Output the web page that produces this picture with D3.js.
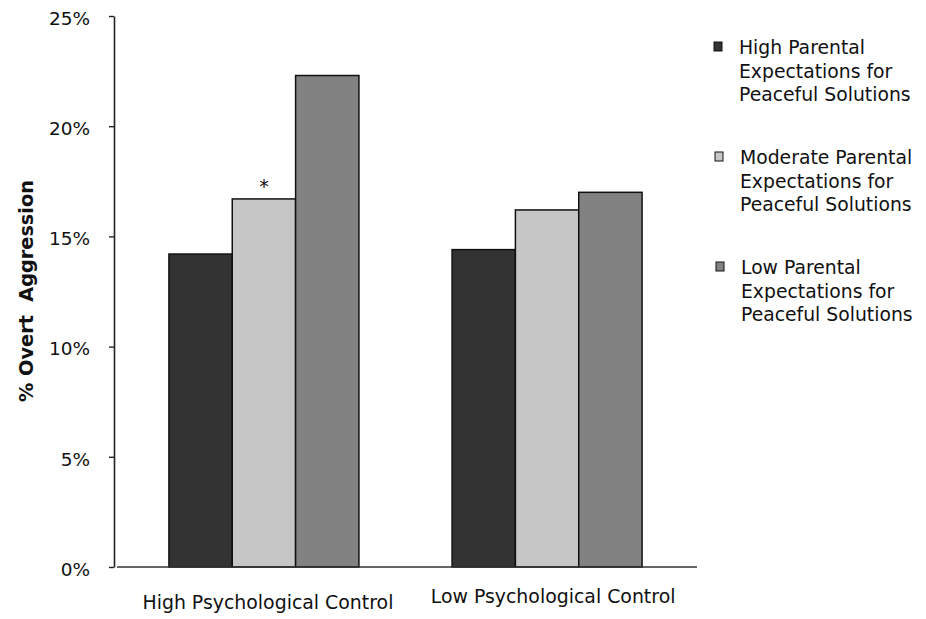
<!DOCTYPE html>
<html>
<head>
<meta charset="utf-8">
<script src="https://cdn.jsdelivr.net/npm/d3@7"></script>
<style>
  body { margin: 0; background: #fff; }
  svg { display: block; font-family: "DejaVu Sans", "Liberation Sans", Arial, sans-serif; }
  text { white-space: pre; }
</style>
</head>
<body>
<svg id="chart" width="926" height="619"></svg>
<script>
const categories = ["High Psychological Control", "Low Psychological Control"];
const seriesNames = [
  ["High Parental", "Expectations for", "Peaceful Solutions"],
  ["Moderate Parental", "Expectations for", "Peaceful Solutions"],
  ["Low Parental", "Expectations for", "Peaceful Solutions"]
];
const highExpect = [14.2, 14.4];
const moderateExpect = [16.7, 16.2];
const lowExpect = [22.3, 17.0];
const yTicks = [0, 5, 10, 15, 20, 25];
const yTitle = "% Overt  Aggression";
const significance = [{ category: 0, series: 1, mark: "*" }];

const series = [highExpect, moderateExpect, lowExpect];
const colors = ["#333333", "#c6c6c6", "#828282"];

const svg = d3.select("#chart");
const x0 = d3.scaleBand().domain(categories).range([114, 697]).paddingInner(0.329).paddingOuter(0.194);
const x1 = d3.scaleBand().domain(d3.range(series.length)).range([0, x0.bandwidth()]).padding(0);
const y = d3.scaleLinear().domain([0, 25]).range([567, 16]);

// bars
categories.forEach((c, ci) => {
  const g = svg.append("g").attr("transform", `translate(${x0(c)},0)`);
  series.forEach((s, si) => {
    g.append("rect")
      .attr("x", x1(si))
      .attr("y", y(s[ci]))
      .attr("width", x1.bandwidth())
      .attr("height", y(0) - y(s[ci]))
      .attr("fill", colors[si])
      .attr("stroke", "#111")
      .attr("stroke-width", 1.5);
  });
});

// significance marks
significance.forEach(d => {
  const c = categories[d.category];
  svg.append("text")
    .attr("x", x0(c) + x1(d.series) + x1.bandwidth() / 2)
    .attr("y", y(series[d.series][d.category]) - 6)
    .attr("text-anchor", "middle")
    .attr("font-size", 19)
    .attr("fill", "#111")
    .text(d.mark);
});

// y axis
const yAxis = d3.axisLeft(y).tickValues(yTicks).tickFormat(d => d + "%").tickSize(5).tickSizeOuter(0);
const ya = svg.append("g").attr("transform", "translate(114,0)").call(yAxis);
ya.select(".domain").attr("stroke", "#222").attr("stroke-width", 1.6);
ya.selectAll(".tick line").attr("stroke", "#222").attr("stroke-width", 1.4);
ya.selectAll(".tick text")
  .attr("font-size", 18.5).attr("fill", "#111").attr("x", -24).attr("dy", "0.45em")
  .attr("font-family", "DejaVu Sans, Liberation Sans, Arial, sans-serif");

// x axis baseline
svg.append("line").attr("x1", 117).attr("x2", 697).attr("y1", y(0)).attr("y2", y(0))
  .attr("stroke", "#333").attr("stroke-width", 1.4);

// category labels
categories.forEach((c, ci) => {
  svg.append("text")
    .attr("x", x0(c) + x0.bandwidth() / 2 + (ci === 0 ? 4 : 6))
    .attr("y", ci === 0 ? 609 : 603)
    .attr("text-anchor", "middle")
    .attr("font-size", 18.9)
    .attr("fill", "#111")
    .text(c);
});

// y title
svg.append("text")
  .attr("transform", "translate(33,291) rotate(-90)")
  .attr("text-anchor", "middle")
  .attr("font-size", 19.3)
  .attr("font-weight", "bold")
  .attr("fill", "#111")
  .text(yTitle);

// legend
const legendTop = [54, 164, 274];
seriesNames.forEach((lines, i) => {
  const g = svg.append("g").attr("transform", `translate(0,${legendTop[i]})`);
  g.append("rect").attr("x", 714 + i).attr("y", -12).attr("width", 8).attr("height", 9)
    .attr("fill", colors[i]).attr("stroke", "#111").attr("stroke-width", 1);
  lines.forEach((t, li) => {
    g.append("text")
      .attr("x", 739 + i)
      .attr("y", li * 23.5)
      .attr("font-size", 18.8)
      .attr("fill", "#111")
      .text(t);
  });
});
</script>
</body>
</html>
